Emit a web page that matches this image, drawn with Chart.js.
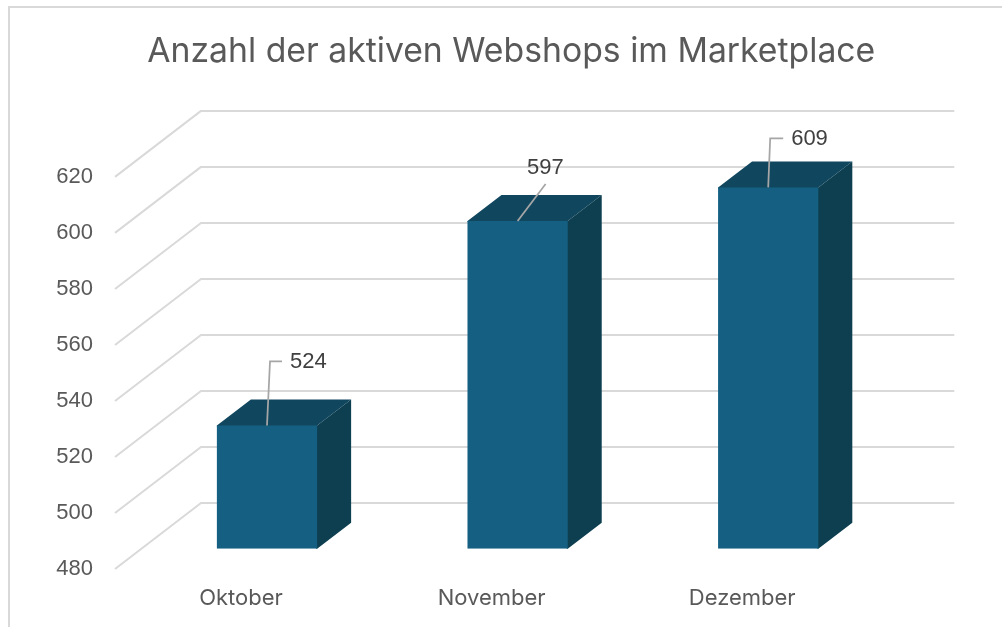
<!DOCTYPE html>
<html><head><meta charset="utf-8">
<style>
html,body{margin:0;padding:0;background:#fff;overflow:hidden;width:1002px;height:627px}
#frame{position:absolute;left:8px;top:6px;width:1006px;height:621px;border-left:2px solid #d9d9d9;border-top:2px solid #d9d9d9;box-sizing:border-box;overflow:hidden}
#wrap{position:absolute;left:0;top:0;width:1004px;height:619px}
</style>
<script src="https://cdn.jsdelivr.net/npm/chart.js@4/dist/chart.umd.min.js"></script>
</head><body>
<div id="frame"><div id="wrap"><canvas id="c"></canvas></div></div>
<script>
const titleText = 'Anzahl der aktiven Webshops im Marketplace';
const categories = ['Oktober', 'November', 'Dezember'];
const webshops = [524, 597, 609];
const yTicksMin = 480, yTicksMax = 620, yTicksStep = 20;

const FRONT = '#156082', TOP = '#10475F', SIDE = '#0D3F51', GRID = '#D9D9D9', LEADER = '#A6A6A6';
const depth = {dx: 34, dy: -26};
const wall = {dx: 59.3, dy: -45.7, right: 60.8};
const axisPlane = {dx: -26.7, dy: 20.3};
const xLabelShift = -26, yLabelShift = 20, titleShift = 59.5;
// leader line bends and label anchor, relative to the top centre of each bar's front face
const leaders = [
  {path: [[3, -64], [15, -64]], label: [41.3, -63.5]},
  {path: [[28, -37]], label: [27.8, -53.5]},
  {path: [[2, -49], [15, -49]], label: [41.3, -48.5]}
];

function shiftDraw(box, method, dx, dy) {
  const orig = box[method];
  box[method] = function (a) {
    const c = box.ctx; c.save(); c.translate(dx, dy); orig.call(box, a); c.restore();
  };
}

const threeD = {
  id: 'threeD',
  beforeDraw(chart) {
    if (!chart._shifted) {
      chart._shifted = true;
      shiftDraw(chart.scales.y, 'drawLabels', 0, yLabelShift);
      shiftDraw(chart.scales.x, 'drawLabels', xLabelShift, 0);
      shiftDraw(chart.titleBlock, 'draw', titleShift, 0);
    }
  },
  beforeDatasetsDraw(chart) {
    const {ctx, chartArea: a, scales: {y}} = chart;
    ctx.save();
    ctx.strokeStyle = GRID; ctx.lineWidth = 2; ctx.lineJoin = 'round';
    y.ticks.forEach(t => {
      const p = y.getPixelForValue(t.value);
      ctx.beginPath();
      ctx.moveTo(a.left + axisPlane.dx, p + axisPlane.dy);
      ctx.lineTo(a.left + wall.dx, p + wall.dy);
      ctx.lineTo(a.right + wall.right, p + wall.dy);
      ctx.stroke();
    });
    chart.getDatasetMeta(0).data.forEach(b => {
      const l = b.x - b.width / 2, r = b.x + b.width / 2, t = b.y, bt = b.base;
      ctx.fillStyle = TOP;
      ctx.beginPath(); ctx.moveTo(l, t + 1); ctx.lineTo(l, t); ctx.lineTo(l + depth.dx, t + depth.dy); ctx.lineTo(r + depth.dx, t + depth.dy); ctx.lineTo(r, t); ctx.lineTo(r, t + 1); ctx.closePath(); ctx.fill();
      ctx.fillStyle = SIDE;
      ctx.beginPath(); ctx.moveTo(r - 1, t); ctx.lineTo(r, t); ctx.lineTo(r + depth.dx, t + depth.dy); ctx.lineTo(r + depth.dx, bt + depth.dy); ctx.lineTo(r, bt); ctx.lineTo(r - 1, bt); ctx.closePath(); ctx.fill();
    });
    ctx.restore();
  },
  afterDatasetsDraw(chart) {
    const {ctx} = chart;
    const bars = chart.getDatasetMeta(0).data;
    ctx.save();
    bars.forEach((b, i) => {
      const lead = leaders[i];
      ctx.strokeStyle = LEADER; ctx.lineWidth = 1.75;
      ctx.beginPath(); ctx.moveTo(b.x, b.y);
      lead.path.forEach(q => ctx.lineTo(b.x + q[0], b.y + q[1]));
      ctx.stroke();
      ctx.fillStyle = '#404040';
      ctx.font = '22px "Liberation Sans"';
      ctx.textAlign = 'center'; ctx.textBaseline = 'middle';
      ctx.fillText(String(webshops[i]), b.x + lead.label[0], b.y + lead.label[1]);
    });
    ctx.restore();
  }
};

new Chart(document.getElementById('c'), {
  type: 'bar',
  data: {labels: categories, datasets: [{label: 'Webshops', data: webshops, base: yTicksMin, backgroundColor: FRONT, barPercentage: 0.4, categoryPercentage: 1, borderWidth: 0}]},
  plugins: [threeD],
  options: {
    responsive: true, maintainAspectRatio: false, animation: false,
    layout: {padding: {left: 0, top: 0, bottom: 0, right: 120.5}, autoPadding: false},
    plugins: {
      legend: {display: false}, tooltip: {enabled: false},
      title: {display: true, text: titleText, color: '#595959', font: {family: 'Inter', size: 33.75, weight: '400', lineHeight: 1.2}, padding: {top: 23.6, bottom: 84.5}}
    },
    scales: {
      x: {
        grid: {display: false, drawTicks: false}, border: {display: false},
        ticks: {color: '#595959', font: {family: 'Inter', size: 22}, padding: 36, maxRotation: 0, minRotation: 0, autoSkip: false},
        afterFit(s) { s.height = 78.3; }
      },
      y: {
        min: yTicksMin, max: yTicksMax,
        grid: {display: false, drawTicks: false}, border: {display: false},
        ticks: {stepSize: yTicksStep, color: '#595959', font: {family: 'Liberation Sans', size: 22}, padding: 48.7},
        afterFit(s) { s.width = 131.7; }
      }
    }
  }
});
</script>
</body></html>
